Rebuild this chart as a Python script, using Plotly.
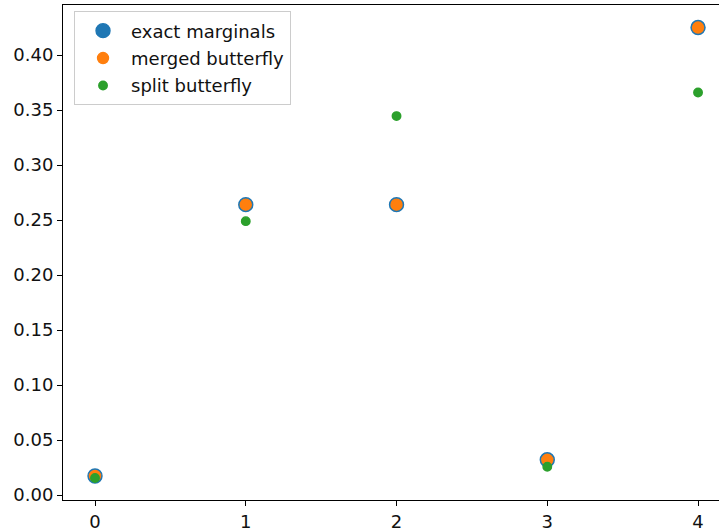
import plotly.graph_objects as go

# outcome index for each marginal
outcomes = [0, 1, 2, 3, 4]

# marginal probabilities per method
exact_marginals = [0.0173, 0.264, 0.264, 0.032, 0.425]
merged_butterfly = [0.0173, 0.264, 0.264, 0.032, 0.425]
split_butterfly = [0.0155, 0.249, 0.3445, 0.0257, 0.366]

x_ticks = [0, 1, 2, 3, 4]
y_ticks = [0.00, 0.05, 0.10, 0.15, 0.20, 0.25, 0.30, 0.35, 0.40]

FONT = "DejaVu Sans"
FONT_SIZE = 18

series = [
    ("exact marginals", exact_marginals, "#1f77b4", 14),
    ("merged butterfly", merged_butterfly, "#ff7f0e", 11),
    ("split butterfly", split_butterfly, "#2ca02c", 8.5),
]

fig = go.Figure()
for name, vals, color, size in series:
    fig.add_trace(
        go.Scatter(
            x=outcomes,
            y=vals,
            mode="markers",
            name=name,
            legendgroup=name,
            marker=dict(color=color, size=size, line=dict(color=color, width=1.4)),
        )
    )

axis_common = dict(
    showgrid=False,
    zeroline=False,
    showline=True,
    linecolor="black",
    linewidth=1,
    ticks="outside",
    ticklen=5,
    tickwidth=1,
    tickcolor="black",
    tickfont=dict(family=FONT, size=FONT_SIZE, color="#111111"),
)

fig.update_layout(
    width=719,
    height=531,
    margin=dict(l=63, r=0, t=5, b=31),
    paper_bgcolor="white",
    plot_bgcolor="white",
    font=dict(family=FONT, size=FONT_SIZE, color="#111111"),
    showlegend=True,
    legend=dict(
        x=0.0168,
        y=0.987,
        xanchor="left",
        yanchor="top",
        bgcolor="rgba(255,255,255,0.8)",
        bordercolor="#cccccc",
        borderwidth=1,
        font=dict(family=FONT, size=FONT_SIZE, color="#111111"),
        tracegroupgap=1,
        traceorder="grouped",
        itemwidth=46,
        valign="middle",
    ),
    xaxis=dict(
        range=[-0.2123, 4.139],
        tickmode="array",
        tickvals=x_ticks,
        ticktext=[str(v) for v in x_ticks],
        mirror=True,
        **axis_common,
    ),
    yaxis=dict(
        range=[-0.00455, 0.4455],
        tickmode="array",
        tickvals=y_ticks,
        ticktext=[f"{v:.2f}" for v in y_ticks],
        mirror=False,
        **axis_common,
    ),
)

fig.write_html("out.html")
